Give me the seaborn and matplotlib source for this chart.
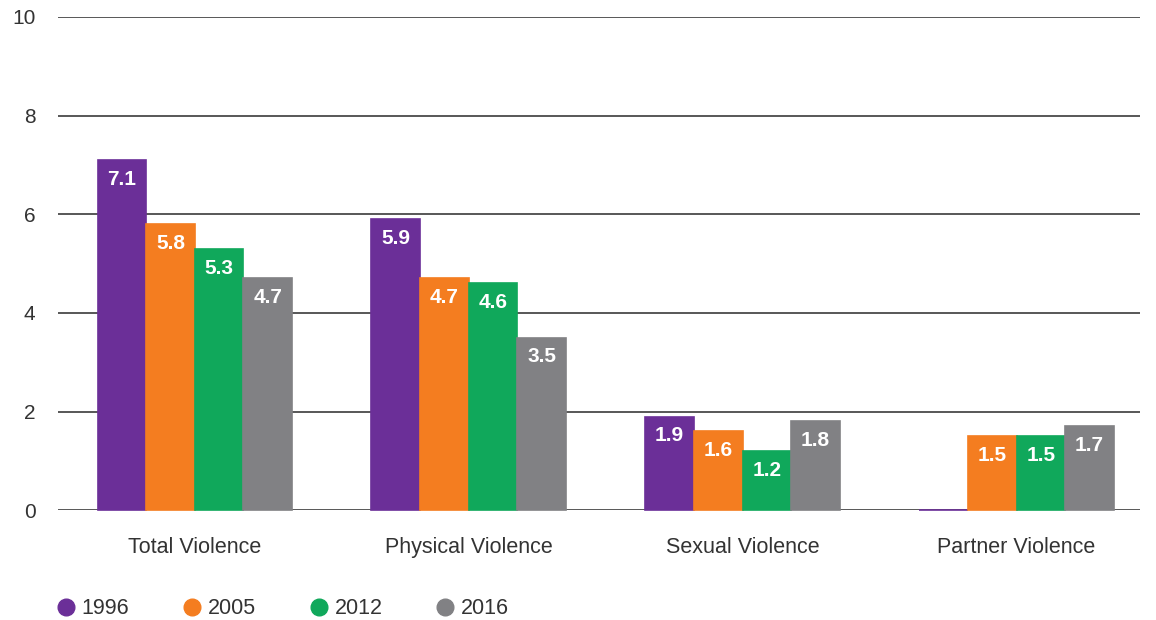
import matplotlib
matplotlib.use("Agg")
import matplotlib.pyplot as plt
import seaborn as sns
import pandas as pd
from matplotlib.lines import Line2D

categories = ["Total Violence", "Physical Violence", "Sexual Violence", "Partner Violence"]
years = ["1996", "2005", "2012", "2016"]
v1996 = [7.1, 5.9, 1.9, 0.0]
v2005 = [5.8, 4.7, 1.6, 1.5]
v2012 = [5.3, 4.6, 1.2, 1.5]
v2016 = [4.7, 3.5, 1.8, 1.7]
show_label_1996 = [True, True, True, False]

colors = ["#6b2f98", "#f47d20", "#10a85b", "#818184"]

rows = []
for yr, vals in zip(years, [v1996, v2005, v2012, v2016]):
    for c, v in zip(categories, vals):
        rows.append({"category": c, "year": yr, "value": v})
df = pd.DataFrame(rows)

sns.set_theme(style="white")
plt.rcParams["font.family"] = ["Liberation Sans", "DejaVu Sans"]

fig = plt.figure(figsize=(11.56, 6.2), dpi=100)
ax = fig.add_axes([0.050, 0.177, 0.936, 0.7956])

ax.set_axisbelow(True)
for yv in range(0, 11, 2):
    ax.axhline(yv, color="#4a4a4a", lw=1.3, zorder=0)

sns.barplot(data=df, x="category", y="value", hue="year", order=categories,
            hue_order=years, palette=colors, width=0.71, gap=0, ax=ax,
            saturation=1, legend=False, linewidth=1.2, zorder=2)
for i, cont in enumerate(ax.containers):
    for bar in cont:
        bar.set_edgecolor(bar.get_facecolor())
        bar.set_clip_on(False)

all_vals = [v1996, v2005, v2012, v2016]
for i, cont in enumerate(ax.containers):
    for j, bar in enumerate(cont):
        v = all_vals[i][j]
        if i == 0 and not show_label_1996[j]:
            continue
        ax.annotate(f"{v:.1f}", (bar.get_x() + bar.get_width() / 2, bar.get_height()),
                    xytext=(0, -7), textcoords="offset points", ha="center", va="top",
                    color="white", fontsize=15, fontweight="bold", zorder=3)

ax.set_ylim(0, 10)
ax.set_xlim(-0.5, 3.45)
ax.set_yticks(range(0, 11, 2))
ax.set_yticklabels([str(v) for v in range(0, 11, 2)])
ax.set_xlabel("")
ax.set_ylabel("")
for s in ax.spines.values():
    s.set_visible(False)
ax.tick_params(axis="y", length=0, pad=16, labelsize=15, labelcolor="#333333")
ax.tick_params(axis="x", length=0, pad=19, labelsize=15.5, labelcolor="#333333")

handles = [Line2D([0], [0], marker="o", linestyle="", markersize=12,
                  markerfacecolor=c, markeredgecolor=c) for c in colors]
fig.legend(handles, years, loc="center left", bbox_to_anchor=(0.040, 0.018),
           borderaxespad=0, ncol=4, frameon=False, fontsize=15.5, handlelength=1.0,
           handletextpad=0.25, columnspacing=2.4, labelcolor="#333333")

fig.savefig("out.png", dpi=100, facecolor="white")
